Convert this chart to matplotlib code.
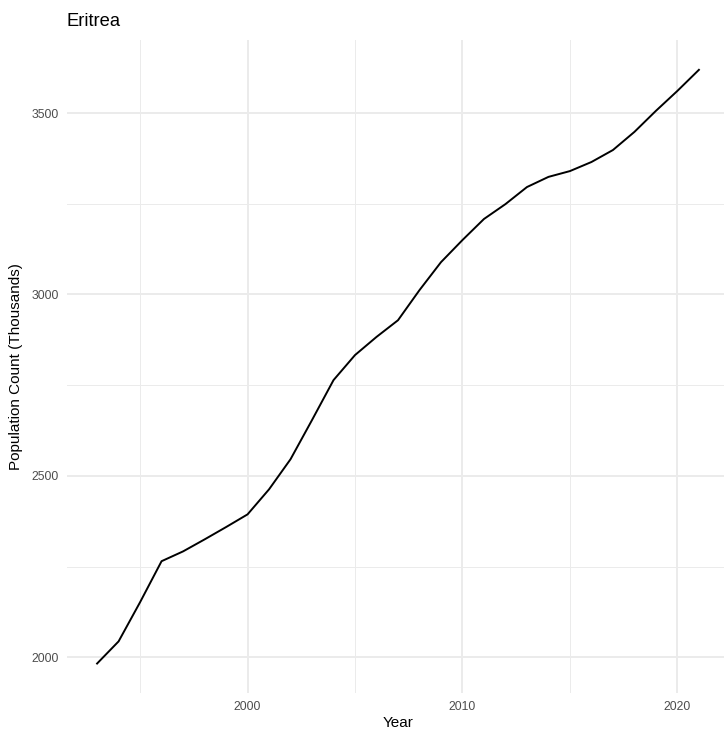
import matplotlib
matplotlib.use("Agg")
import matplotlib.pyplot as plt
from matplotlib.ticker import MultipleLocator

plt.rcParams['font.family'] = ['Liberation Sans', 'DejaVu Sans']

# Eritrea population, thousands
years = list(range(1993, 2022))
population = [1983, 2044, 2152, 2265, 2292, 2325, 2359, 2394, 2463, 2546,
              2654, 2764, 2833, 2883, 2929, 3012, 3089, 3150, 3208, 3249,
              3296, 3324, 3340, 3365, 3398, 3448, 3506, 3561, 3619]

W, H = 724, 732
fig = plt.figure(figsize=(W / 100, H / 100), dpi=100)
# panel edges in pixels (left, top, right, bottom)
pl, pt, pr, pb = 67, 40, 729, 693
ax = fig.add_axes([pl / W, 1 - pb / H, (pr - pl) / W, (pb - pt) / H])

ax.plot(years, population, color='black', linewidth=1.4)

ax.set_xlim(1991.6, 2022.4)
ax.set_ylim(1901.8, 3701.2)
ax.xaxis.set_major_locator(MultipleLocator(10))
ax.xaxis.set_minor_locator(MultipleLocator(5))
ax.yaxis.set_major_locator(MultipleLocator(500))
ax.yaxis.set_minor_locator(MultipleLocator(250))

ax.grid(which='major', color='#EBEBEB', linewidth=1.4)
ax.grid(which='minor', color='#EBEBEB', linewidth=0.7)
ax.set_axisbelow(True)
for s in ax.spines.values():
    s.set_visible(False)
ax.tick_params(which='both', length=0)
ax.tick_params(axis='both', labelsize=8.8, labelcolor='#4D4D4D')
ax.tick_params(axis='x', pad=6)
ax.tick_params(axis='y', pad=6)

ax.set_xlabel('Year', fontsize=11, labelpad=2)
ax.set_ylabel('Population Count (Thousands)', fontsize=11, labelpad=6)
fig.text(pl / W, 1 - 22 / H, 'Eritrea', fontsize=13.2, ha='left', va='center')

fig.savefig('out.png', dpi=100)
